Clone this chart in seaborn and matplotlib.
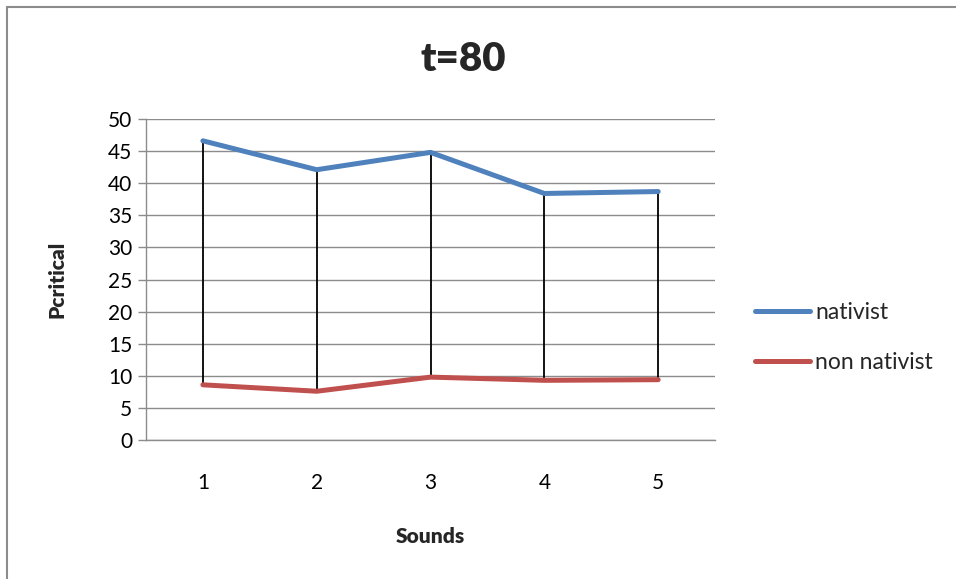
import matplotlib
matplotlib.use("Agg")
import matplotlib.pyplot as plt
import seaborn as sns
import pandas as pd
from matplotlib.patches import Rectangle

# Data
sounds = [1, 2, 3, 4, 5]
nativist = [46.6, 42.1, 44.8, 38.4, 38.7]
non_nativist = [8.6, 7.6, 9.8, 9.3, 9.4]
series_names = ["nativist", "non nativist"]
y_ticks = [0, 5, 10, 15, 20, 25, 30, 35, 40, 45, 50]

df = pd.DataFrame({
    "Sounds": sounds * 2,
    "Pcritical": nativist + non_nativist,
    "series": [series_names[0]] * len(sounds) + [series_names[1]] * len(sounds),
})

sns.set_theme(style="white")
plt.rcParams["font.family"] = ["Lato", "DejaVu Sans"]

fig = plt.figure(figsize=(9.56, 5.79), dpi=100)
ax = fig.add_axes([0.1527, 0.240, 0.748 - 0.1527, 0.7945 - 0.240])

# high-low lines between the two series
ax.vlines(sounds, non_nativist, nativist, color="black", linewidth=1.3, zorder=2)

sns.lineplot(data=df, x="Sounds", y="Pcritical", hue="series",
             palette={"nativist": "#4F81BD", "non nativist": "#C0504D"},
             linewidth=3.6, ax=ax, zorder=3, legend=True,
             solid_capstyle="round")

ax.set_xlim(0.5, 5.5)
ax.set_ylim(0, 50)
ax.set_yticks(y_ticks)
ax.set_xticks(sounds)
ax.set_xticklabels([str(s) for s in sounds])

ax.yaxis.grid(True, color="#8c8c8c", linewidth=1.0)
ax.set_axisbelow(True)
for side in ["top", "right"]:
    ax.spines[side].set_visible(False)
for side in ["left", "bottom"]:
    ax.spines[side].set_color("#8c8c8c")
    ax.spines[side].set_linewidth(1.0)

ax.tick_params(axis="y", which="major", length=6, width=1.0, color="#8c8c8c",
               direction="out", left=True, labelsize=15, pad=4)
ax.tick_params(axis="x", length=0, labelsize=15, pad=24)
for lbl in ax.get_xticklabels() + ax.get_yticklabels():
    lbl.set_color("black")

ax.set_xlabel("Sounds", fontsize=15, fontweight="heavy", labelpad=24)
ax.set_ylabel("Pcritical", fontsize=15, fontweight="heavy", labelpad=30)

fig.text(0.485, 0.898, "t=80", ha="center", va="center",
         fontsize=29, fontweight="heavy")

handles, labels = ax.get_legend_handles_labels()
leg = ax.legend(handles, labels, loc="center left", bbox_to_anchor=(1.07, 0.32),
                frameon=False, fontsize=16.5, handlelength=2.4, handletextpad=0.22,
                labelspacing=1.25, borderaxespad=0, borderpad=0)
for h in leg.get_lines():
    h.set_linewidth(3.6)

# outer chart border
fig.patches.append(Rectangle((7 / 956, -0.05), 1.2, 1 - 7 / 579 + 0.05,
                             transform=fig.transFigure, fill=False,
                             edgecolor="#8c8c8c", linewidth=1.5))

fig.savefig("out.png", dpi=100)
